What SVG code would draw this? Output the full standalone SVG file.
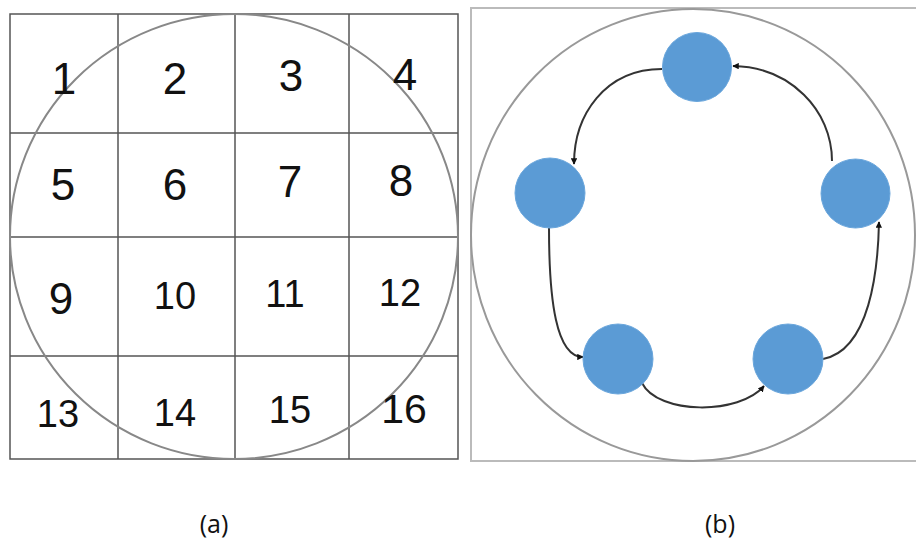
<svg xmlns="http://www.w3.org/2000/svg" width="916" height="547" viewBox="0 0 916 547">
<style>
.grid{fill:none;stroke:#555;stroke-width:1.5}
.ring{fill:none;stroke:#888;stroke-width:2}
.num{font-family:"Liberation Sans",Arial,sans-serif;fill:#111;text-anchor:middle}
.big{font-size:44px}
.small{font-size:38px}
.node{fill:#5B9BD5;stroke:#6aa6dc;stroke-width:1}
.edge{fill:none;stroke:#333;stroke-width:2;marker-end:url(#ah)}
.cap{font-family:"Open Sans","Liberation Sans",sans-serif;font-size:25px;fill:#111;text-anchor:middle}
</style>
<defs>
<marker id="ah" viewBox="0 0 10 10" refX="9" refY="5" markerWidth="3.2" markerHeight="3.2" orient="auto" markerUnits="strokeWidth">
<path d="M0,0 L10,5 L0,10 z" fill="#111"/>
</marker>
</defs>
<rect width="916" height="547" fill="#fff"/>
<g id="panel-a">
<rect class="grid" x="10" y="14" width="448" height="445"/>
<line class="grid" x1="118" y1="14" x2="118" y2="459"/>
<line class="grid" x1="235" y1="14" x2="235" y2="459"/>
<line class="grid" x1="349" y1="14" x2="349" y2="459"/>
<line class="grid" x1="10" y1="133" x2="458" y2="133"/>
<line class="grid" x1="10" y1="237" x2="458" y2="237"/>
<line class="grid" x1="10" y1="356" x2="458" y2="356"/>
<ellipse class="ring" cx="234" cy="236.5" rx="224" ry="222.5"/>
<text class="num big" x="64" y="94">1</text>
<text class="num big" x="175" y="94">2</text>
<text class="num big" x="291" y="91">3</text>
<text class="num big" x="405" y="90">4</text>
<text class="num big" x="63" y="200">5</text>
<text class="num big" x="175" y="200">6</text>
<text class="num big" x="290" y="197">7</text>
<text class="num big" x="401" y="196">8</text>
<text class="num big" x="61" y="314">9</text>
<text class="num small" x="175" y="309">10</text>
<text class="num small" x="285" y="307">11</text>
<text class="num small" x="400" y="306">12</text>
<text class="num small" x="58" y="427">13</text>
<text class="num small" x="175" y="426">14</text>
<text class="num small" x="290" y="423">15</text>
<text class="num" style="font-size:41px" x="404" y="423">16</text>
</g>
<g id="panel-b">
<path d="M918,8 H471 V461 H918" fill="none" stroke="#bbb" stroke-width="2"/>
<ellipse cx="693" cy="235" rx="222" ry="226" fill="none" stroke="#999" stroke-width="2"/>
</g>
<g id="connectors">
<path class="edge" d="M662,69 C605,69 574,115 574,164"/>
<path class="edge" d="M549,228 C549,300 556,357 583,357"/>
<path class="edge" d="M642,383 C658,415 740,415 764,386"/>
<path class="edge" d="M823,359 C870,350 878,270 879,222"/>
<path class="edge" d="M832,161 C832,110 790,67 733,66"/>
</g>
<g id="n-top"><circle class="node" cx="697" cy="67" r="34.5"/></g>
<g id="n-left"><circle class="node" cx="550" cy="193" r="35"/></g>
<g id="n-right"><circle class="node" cx="855.5" cy="193.5" r="34.5"/></g>
<g id="n-bl"><circle class="node" cx="618" cy="359" r="35"/></g>
<g id="n-br"><circle class="node" cx="788" cy="359" r="35"/></g>
<g id="captions">
<text class="cap" x="214" y="533">(a)</text>
<text class="cap" x="720" y="533">(b)</text>
</g>
</svg>
